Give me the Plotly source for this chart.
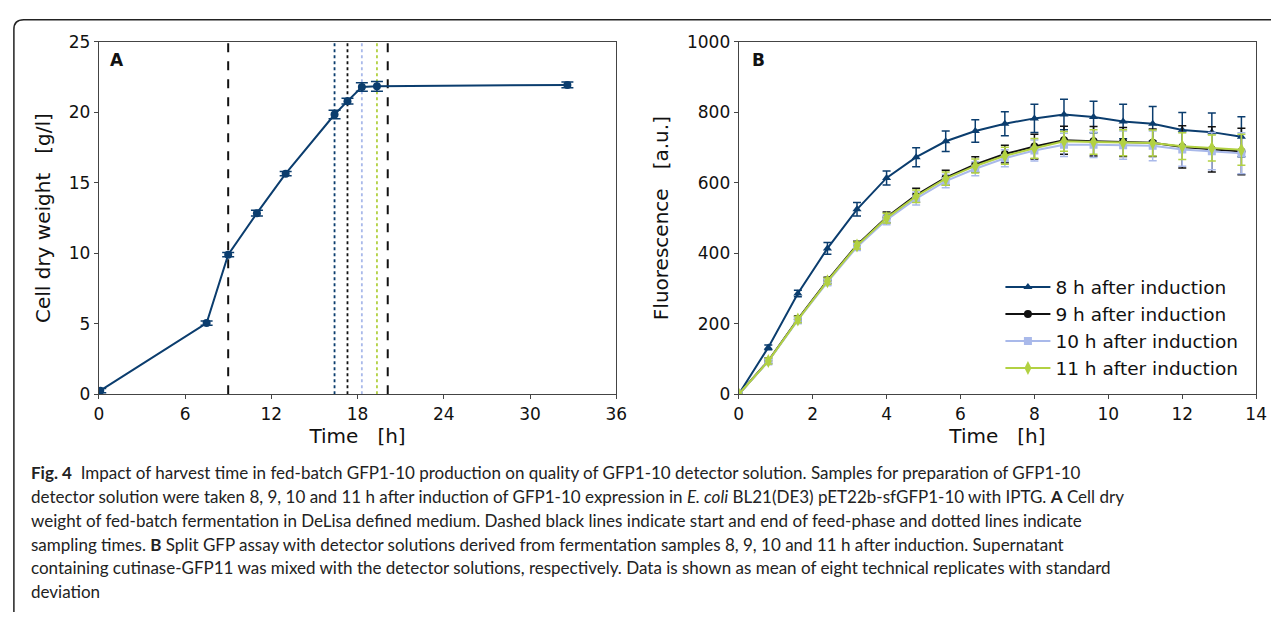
import plotly.graph_objects as go

W, H = 1282, 622

# ---------------- Panel A data ----------------
a_time = [0.1, 7.5, 9.0, 11.0, 13.0, 16.4, 17.3, 18.3, 19.35, 32.6]
a_cdw = [0.25, 5.05, 9.9, 12.85, 15.65, 19.85, 20.8, 21.8, 21.85, 21.95]
a_sd = [0.15, 0.15, 0.15, 0.2, 0.15, 0.3, 0.2, 0.3, 0.35, 0.2]
feed_times = [9.0, 20.1]
sampling_times = [16.4, 17.3, 18.3, 19.35]
sampling_colors = ["#0b3d6e", "#111111", "#a9b9ea", "#b2d142"]

# ---------------- Panel B data ----------------
b_time = [0, 0.8, 1.6, 2.4, 3.2, 4.0, 4.8, 5.6, 6.4, 7.2, 8.0, 8.8, 9.6, 10.4, 11.2, 12.0, 12.8, 13.6]
b_names = ["8 h after induction", "9 h after induction", "10 h after induction", "11 h after induction"]
b_8h = [0, 133, 286, 414, 525, 614, 673, 718, 747, 768, 783, 794, 787, 774, 768, 750, 744, 731]
b_8h_sd = [0, 7, 9, 17, 19, 20, 27, 29, 32, 34, 40, 43, 45, 49, 49, 50, 54, 57]
b_9h = [0, 95, 213, 323, 424, 502, 565, 615, 652, 682, 703, 721, 718, 716, 714, 702, 695, 689]
b_9h_sd = [0, 8, 9, 9, 10, 15, 20, 21, 22, 25, 35, 40, 42, 41, 39, 60, 64, 66]
b_10h = [0, 93, 210, 318, 418, 495, 555, 605, 640, 670, 692, 708, 708, 707, 705, 695, 690, 684]
b_10h_sd = [0, 8, 9, 9, 10, 14, 18, 19, 20, 24, 30, 33, 36, 40, 42, 48, 53, 58]
b_11h = [0, 94, 212, 321, 422, 500, 562, 612, 648, 677, 698, 718, 716, 714, 713, 704, 699, 694]
b_11h_sd = [0, 8, 9, 9, 10, 14, 18, 19, 20, 24, 28, 28, 35, 37, 37, 38, 37, 44]
b_colors = ["#0b3d6e", "#111111", "#a9b9ea", "#b2d142"]
b_symbols = ["triangle-up", "circle", "square", "diamond-tall"]

caption_lines = [
    "<b>Fig. 4</b>  Impact of harvest time in fed-batch GFP1-10 production on quality of GFP1-10 detector solution. Samples for preparation of GFP1-10",
    "detector solution were taken 8, 9, 10 and 11 h after induction of GFP1-10 expression in <i>E. coli</i> BL21(DE3) pET22b-sfGFP1-10 with IPTG. <b>A</b> Cell dry",
    "weight of fed-batch fermentation in DeLisa defined medium. Dashed black lines indicate start and end of feed-phase and dotted lines indicate",
    "sampling times. <b>B</b> Split GFP assay with detector solutions derived from fermentation samples 8, 9, 10 and 11 h after induction. Supernatant",
    "containing cutinase-GFP11 was mixed with the detector solutions, respectively. Data is shown as mean of eight technical replicates with standard",
    "deviation",
]

FONT = "DejaVu Sans"
fig = go.Figure()

# Panel A trace
fig.add_trace(go.Scatter(
    x=a_time, y=a_cdw, mode="lines+markers", xaxis="x", yaxis="y",
    line=dict(color="#0b3d6e", width=2),
    marker=dict(color="#0b3d6e", size=8, symbol="circle"),
    error_y=dict(type="data", array=a_sd, color="#0b3d6e", thickness=1.5, width=6),
    showlegend=False,
))

# Panel B traces
b_vals = [b_8h, b_9h, b_10h, b_11h]
b_sds = [b_8h_sd, b_9h_sd, b_10h_sd, b_11h_sd]
for name, vals, sds, col, sym in zip(b_names, b_vals, b_sds, b_colors, b_symbols):
    fig.add_trace(go.Scatter(
        x=b_time, y=vals, mode="lines+markers", name=name, xaxis="x2", yaxis="y2",
        line=dict(color=col, width=2),
        marker=dict(color=col, size=8 if sym != "diamond-tall" else 10, symbol=sym),
        error_y=dict(type="data", array=sds, color=col, thickness=1.5, width=4),
    ))

shapes = []
for t in feed_times:
    shapes.append(dict(type="line", xref="x", yref="y domain", x0=t, x1=t, y0=0, y1=1,
                       line=dict(color="#111111", width=2, dash="dash"), layer="below"))
for t, c in zip(sampling_times, sampling_colors):
    shapes.append(dict(type="line", xref="x", yref="y domain", x0=t, x1=t, y0=0, y1=1,
                       line=dict(color=c, width=1.8, dash="dot"), layer="below"))


# outer frame of the figure box
def px(x, y):
    return f"{x / W:.5f},{1 - y / H:.5f}"


frame_path = "M " + px(9, 622) + " L " + px(9, 20) + " Q " + px(9, 10) + " " + px(19, 10) + " L " + px(1282, 10)
shapes.append(dict(type="path", xref="paper", yref="paper", path=frame_path,
                   line=dict(color="#222222", width=1.5)))

axis_common = dict(showline=True, mirror=True, linecolor="#444444", linewidth=1.2,
                   ticks="outside", ticklen=4, tickwidth=1.2, tickcolor="#444444",
                   showgrid=False, zeroline=False,
                   tickfont=dict(family=FONT, size=17, color="#111111"))

yd = [1 - 397 / H, 1 - 33 / H]
fig.update_layout(
    width=W, height=H,
    margin=dict(l=0, r=0, t=0, b=0),
    paper_bgcolor="white", plot_bgcolor="white",
    font=dict(family=FONT, color="#111111"),
    xaxis=dict(domain=[95 / W, 619 / W], range=[0, 36], tickvals=[0, 6, 12, 18, 24, 30, 36],
               anchor="y",
               title=dict(text="Time\u00a0\u00a0\u00a0[h]", font=dict(family=FONT, size=20), standoff=6),
               **axis_common),
    yaxis=dict(domain=yd, range=[0, 25], tickvals=[0, 5, 10, 15, 20, 25], anchor="x",
               title=dict(text="Cell dry weight\u00a0\u00a0\u00a0[g/l]", font=dict(family=FONT, size=20), standoff=12),
               **axis_common),
    xaxis2=dict(domain=[743 / W, 1267 / W], range=[0, 14], tickvals=[0, 2, 4, 6, 8, 10, 12, 14],
                anchor="y2",
                title=dict(text="Time\u00a0\u00a0\u00a0[h]", font=dict(family=FONT, size=20), standoff=6),
                **axis_common),
    yaxis2=dict(domain=yd, range=[0, 1000], tickvals=[0, 200, 400, 600, 800, 1000], anchor="x2",
                title=dict(text="Fluorescence\u00a0\u00a0\u00a0[a.u.]", font=dict(family=FONT, size=20), standoff=12),
                **axis_common),
    legend=dict(x=1008 / W, y=1 - 267 / H, xanchor="left", yanchor="top",
                bgcolor="rgba(255,255,255,0)", borderwidth=0,
                font=dict(family=FONT, size=18.5, color="#111111"),
                itemwidth=45, tracegroupgap=0),
    shapes=shapes,
    showlegend=True,
)

annotations = [
    dict(text="<b>A</b>", xref="paper", yref="paper", x=104 / W, y=1 - 52 / H,
         xanchor="left", yanchor="middle", showarrow=False, font=dict(family=FONT, size=17, color="#111111")),
    dict(text="<b>B</b>", xref="paper", yref="paper", x=754 / W, y=1 - 52 / H,
         xanchor="left", yanchor="middle", showarrow=False, font=dict(family=FONT, size=17, color="#111111")),
]
for i, line in enumerate(caption_lines):
    annotations.append(dict(text=line, xref="paper", yref="paper", x=24 / W, y=1 - (478 + i * 24.6) / H,
                            xanchor="left", yanchor="middle", showarrow=False, align="left",
                            font=dict(family="Lato", size=17, color="#222222")))
fig.update_layout(annotations=annotations)

fig.write_html("out.html")
